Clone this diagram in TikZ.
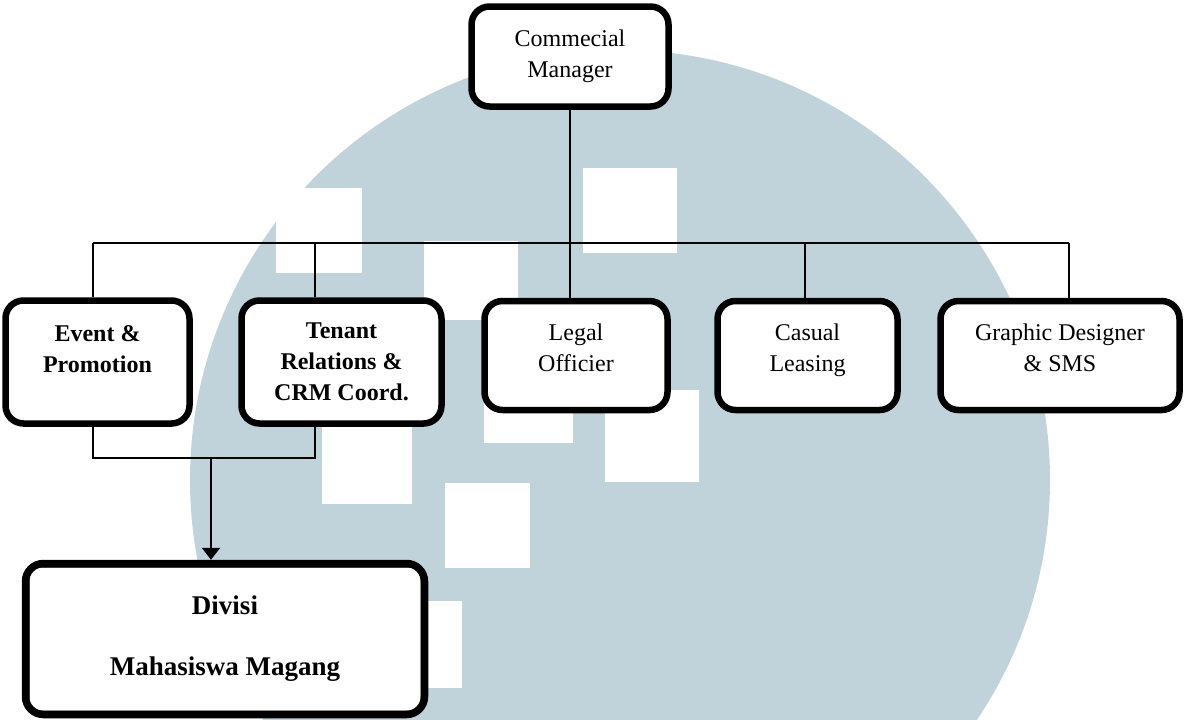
\documentclass[tikz,border=0pt]{standalone}
\usepackage{fontspec}
\setmainfont{Liberation Serif}
\usetikzlibrary{arrows.meta}
\definecolor{wmark}{RGB}{193,211,218}

\begin{document}
\begin{tikzpicture}[
    x=0.5pt, y=-0.5pt,
    unit/.style={rectangle, draw, fill=white, line width=3.25pt, rounded corners=9pt, align=center, inner sep=2pt, font=\fontsize{12}{15.5}\selectfont},
    unitb/.style={unit, font=\fontsize{12}{15.5}\selectfont\bfseries},
    link/.style={line width=0.9pt},
    arrow/.style={-{Triangle[width=9pt, length=6pt]}, line width=1.1pt}
]
\useasboundingbox (0,0) rectangle (1185,719);

% Watermark
\begin{scope}
\clip (0,0) rectangle (1185,719);
\fill[wmark] (620,480) circle (215pt);
\fill[white] (276,188) rectangle (362,273);
\fill[white] (583,168) rectangle (677,253);
\fill[white] (424,241) rectangle (518,320);
\fill[white] (484,350) rectangle (573,443);
\fill[white] (605,390) rectangle (699,482);
\fill[white] (322,426) rectangle (412,504);
\fill[white] (445,483) rectangle (530,568);
\fill[white] (400,601) rectangle (462,688);
\end{scope}

% Commercial manager
\node[unit, minimum width=98.5pt, minimum height=50pt] (cm) at (570,56.5) {Commecial\\Manager};

% Staff
\node[unitb, minimum width=92pt, minimum height=61.5pt] (evt) at (97.5,362) {Event \&\\Promotion\rule[-12.5pt]{0pt}{12.5pt}};
\node[unitb, minimum width=100pt, minimum height=61.5pt] (ten) at (341.5,362) {Tenant\\Relations \&\\CRM Coord.};
\node[unit, minimum width=91.5pt, minimum height=54.5pt] (leg) at (576,355.5) {Legal\\Officier\rule[-8pt]{0pt}{8pt}};
\node[unit, minimum width=90pt, minimum height=54.5pt] (cas) at (807.5,355.5) {Casual\\Leasing\rule[-8pt]{0pt}{8pt}};
\node[unit, minimum width=119.5pt, minimum height=54.5pt] (gra) at (1060,355.5) {Graphic Designer\\\& SMS\rule[-8pt]{0pt}{8pt}};

% Interns
\node[unitb, line width=3.75pt, minimum width=199.5pt, minimum height=75.5pt, font=\fontsize{13.5}{16}\selectfont\bfseries] (div) at (225,639) {Divisi\\[14.5pt]Mahasiswa Magang};
\draw[line width=0.75pt, rounded corners=6pt] ([shift={(3.5pt,-3.5pt)}]div.north west) rectangle ([shift={(-3.5pt,3.5pt)}]div.south east);

% Bus
\coordinate (devt) at (93,243);
\coordinate (dten) at (315,243);
\coordinate (dleg) at (570,243);
\coordinate (dcas) at (805,243);
\coordinate (dgra) at (1069,243);

\draw[link] (cm.south) -- (dleg);
\draw[link] (devt) -- (dgra);
\draw[link] (devt) -- (devt |- evt.north);
\draw[link] (dten) -- (dten |- ten.north);
\draw[link] (dleg) -- (dleg |- leg.north);
\draw[link] (dcas) -- (dcas |- cas.north);
\draw[link] (dgra) -- (dgra |- gra.north);

% Join to interns
\coordinate (join) at (211,458);
\draw[link] (devt |- evt.south) -- (devt |- join) -- (dten |- join) -- (dten |- ten.south);
\draw[arrow] (join) -- (join |- div.north);

\end{tikzpicture}
\end{document}
